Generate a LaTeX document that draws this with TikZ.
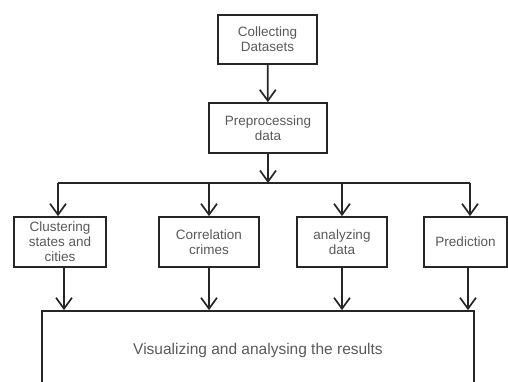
\documentclass[tikz,border=0pt]{standalone}
\usepackage{fontspec}
\setmainfont{Liberation Sans}
\usetikzlibrary{arrows.meta}

\begin{document}
\begin{tikzpicture}
			[x=1pt,y=-1pt,
			 n/.style= {draw=black!85,line width=1.7pt,align=center,inner sep=0pt,minimum height=50pt,text=black!65,font=\fontsize{13.5}{15}\selectfont},
			 a/.style= {draw=black!85,line width=1.7pt,-{Straight Barb[length=11pt,width=16pt,line width=1.7pt]}},
			 l/.style= {draw=black!85,line width=1.7pt}]

			\useasboundingbox (0,0) rectangle (508,381);
			\clip (0,0) rectangle (508,381);

			\node[n,minimum width=99pt,minimum height=49pt] (n0) at (267.5,39.5) {Collecting\\Datasets};

			\node[n,minimum width=118pt] (n1) at (268,128) {Preprocessing\\data};

			\node[n,minimum width=92pt] (n2) at (60,242) {Clustering\\states and\\cities};

			\node[n,minimum width=100pt] (n3) at (209,242) {Correlation\\crimes};

			\node[n,minimum width=90pt] (n4) at (342,242) {analyzing\\data};

			\node[n,minimum width=83pt] (n5) at (465.5,242) {Prediction};

			\node[n,minimum width=432pt,minimum height=78pt,font=\fontsize{15.5}{18}\selectfont] (n6) at (258,350) {Visualizing and analysing the results};

			\coordinate (b0) at (268,183);
			\coordinate (bl) at (58,183);
			\coordinate (br) at (470,183);

			\draw[a] (n0) -- (n1);
			\draw[a] (n1) -- (b0);
			\draw[l] (bl) -- (br);

			\draw[a] (bl) -- (bl |- n2.north);
			\draw[a] (n3.north |- b0) -- (n3.north);
			\draw[a] (n4.north |- b0) -- (n4.north);
			\draw[a] (br) -- (br |- n5.north);

			\draw[a] (n2.south) ++(4,0) coordinate (s2) -- (s2 |- n6.north);
			\draw[a] (n3.south) -- (n3.south |- n6.north);
			\draw[a] (n4.south) -- (n4.south |- n6.north);
			\draw[a] (n5.south) ++(2.5,0) coordinate (s5) -- (s5 |- n6.north);

		\end{tikzpicture}
\end{document}
